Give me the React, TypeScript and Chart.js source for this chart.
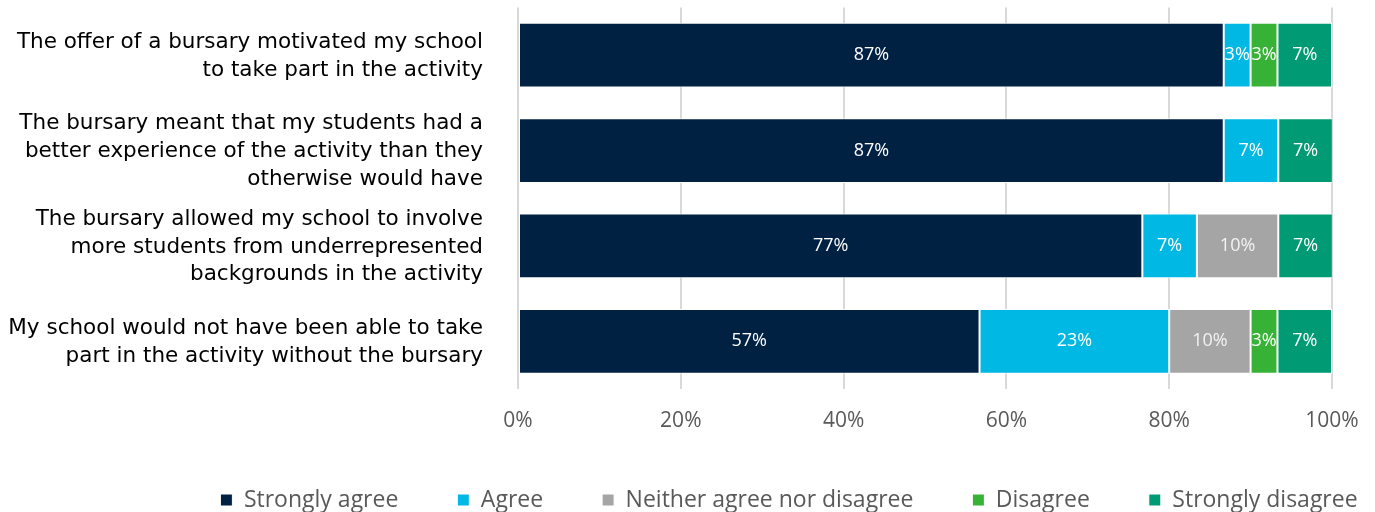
import React, { useEffect, useRef } from "react";
import { Chart, registerables } from "chart.js";

Chart.register(...registerables);

const categories: string[][] = [
  ["The offer of a bursary motivated my school", "to take part in the activity"],
  ["The bursary meant that my students had a", "better experience of the activity than they", "otherwise would have"],
  ["The bursary allowed my school to involve", "more students from underrepresented", "backgrounds in the activity"],
  ["My school would not have been able to take", "part in the activity without the bursary"],
];

const seriesNames = ["Strongly agree", "Agree", "Neither agree nor disagree", "Disagree", "Strongly disagree"];
const seriesColors = ["#002142", "#00B8E4", "#A5A5A5", "#38B236", "#009B75"];

const stronglyAgree = [86.7, 86.7, 76.7, 56.7];
const agree = [3.3, 6.7, 6.7, 23.3];
const neither = [null, null, 10, 10];
const disagree = [3.3, null, null, 3.3];
const stronglyDisagree = [6.7, 6.7, 6.7, 6.7];

const xTicks = [0, 20, 40, 60, 80, 100];

const labelPlugin = {
  id: "barLabels",
  afterDatasetsDraw(chart: any) {
    const ctx = chart.ctx;
    ctx.save();
    ctx.font = "18px 'Open Sans'";
    ctx.textAlign = "center";
    ctx.textBaseline = "middle";
    chart.data.datasets.forEach((ds: any, di: number) => {
      const meta = chart.getDatasetMeta(di);
      meta.data.forEach((el: any, i: number) => {
        const v = ds.data[i];
        if (v === null || v === undefined || v === 0) return;
        const p = el.getCenterPoint();
        ctx.fillStyle = di === 2 ? "#F2F2F2" : "#FFFFFF";
        ctx.fillText(Math.round(v) + "%", p.x, p.y);
      });
    });
    ctx.restore();
  },
};

export default function App() {
  const ref = useRef<HTMLCanvasElement | null>(null);
  useEffect(() => {
    if (!ref.current) return;
    const allData = [stronglyAgree, agree, neither, disagree, stronglyDisagree];
    const chart = new Chart(ref.current, {
      type: "bar",
      data: {
        labels: categories,
        datasets: allData.map((d, i) => ({
          label: seriesNames[i],
          data: d,
          backgroundColor: seriesColors[i],
          borderColor: "#FFFFFF",
          borderWidth: 1,
          borderSkipped: false,
          categoryPercentage: 1,
          barPercentage: 0.68,
        })) as any,
      },
      options: {
        indexAxis: "y",
        animation: false,
        responsive: false,
        layout: { padding: { left: 0, right: -203, top: 7.5, bottom: -9.5 } },
        scales: {
          x: {
            stacked: true,
            min: 0,
            max: 100,
            afterBuildTicks: (s: any) => {
              s.ticks = xTicks.map((v) => ({ value: v }));
            },
            afterFit: (s: any) => {
              s.height = 40.5;
              s.paddingRight = 43;
            },
            grid: { color: "#D9D9D9", lineWidth: 2, drawTicks: false },
            border: { display: false },
            ticks: {
              padding: 19,
              color: "#595959",
              font: { family: "'Open Sans'", size: 21 },
              callback: (v: any) => v + "%",
            },
          },
          y: {
            stacked: true,
            afterFit: (s: any) => {
              s.width = 518;
              s.paddingTop = 0;
              s.paddingBottom = 0;
            },
            grid: { display: false, drawTicks: false },
            border: { display: false },
            ticks: {
              autoSkip: false,
              padding: 35,
              labelOffset: 1,
              color: "#000000",
              font: { family: "'DejaVu Sans'", size: 21.5, lineHeight: 1.3 },
            },
          },
        },
        plugins: {
          tooltip: { enabled: false },
          legend: {
            position: "bottom",
            labels: {
              boxWidth: 12,
              boxHeight: 12,
              padding: 59,
              color: "#595959",
              font: { family: "'Open Sans'", size: 23 },
            },
          },
        },
      },
      plugins: [labelPlugin],
    });
    return () => chart.destroy();
  }, []);
  return (
    <div style={{ position: "fixed", left: 0, top: 0, width: 1375, height: 512 }}>
      <canvas ref={ref} width={1375} height={512} style={{ width: 1375, height: 512 }} />
    </div>
  );
}
